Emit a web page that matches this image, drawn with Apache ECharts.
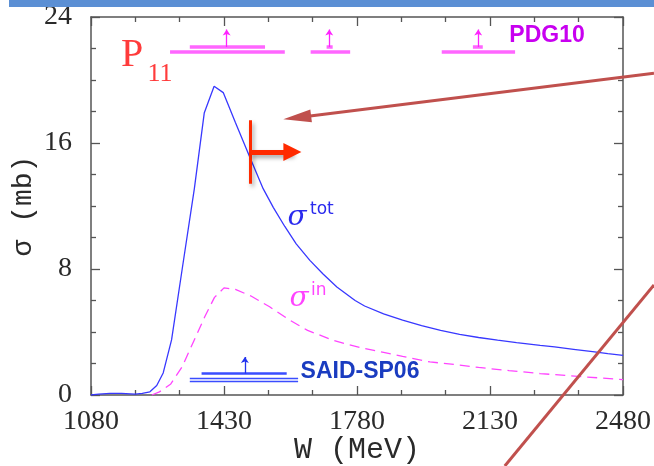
<!DOCTYPE html>
<html>
<head>
<meta charset="utf-8">
<script src="https://cdn.jsdelivr.net/npm/echarts@6/dist/echarts.min.js"></script>
<style>html,body{margin:0;padding:0;background:#fff;}#c{width:654px;height:466px;}</style>
</head>
<body>
<div id="c"></div>
<script>
// ---- data ----
const W_TOT = [1080,1100,1130,1160,1196,1215,1235,1253,1270,1292,1320,1352,1378,1404,1428,1460,1498,1533,1560,1590,1620,1656,1690,1727,1775,1800,1850,1900,1950,2000,2050,2100,2150,2200,2262,2300,2350,2400,2440,2480];
const SIG_TOT = [0,0.05,0.1,0.1,0.05,0.1,0.2,0.6,1.4,3.5,8.0,13.1,17.9,19.6,19.2,17.3,15.1,13.1,11.9,10.7,9.6,8.55,7.7,6.86,6.0,5.65,5.15,4.75,4.4,4.1,3.85,3.65,3.48,3.33,3.15,3.05,2.9,2.75,2.63,2.52];
const W_IN = [1240,1260,1290,1320,1350,1380,1405,1430,1460,1500,1550,1600,1650,1718,1760,1800,1850,1900,1972,2050,2100,2180,2262,2380,2480];
const SIG_IN = [0,0.2,0.7,1.8,3.4,5.0,6.2,6.8,6.7,6.3,5.6,4.8,4.1,3.47,3.18,2.95,2.7,2.45,2.1,1.9,1.75,1.55,1.36,1.15,0.98];
// PDG10 resonances (mass, outer range, inner range)
const PDG_MASS = [1437,1707,2099];
const PDG_LOW = [1288,1658,2003];
const PDG_HIGH = [1590,1762,2196];
const PDG_IN_LOW = [1340,1700,2085];
const PDG_IN_HIGH = [1538,1716,2111];
// SAID-SP06 resonance
const SAID_MASS = [1485];
const SAID_LOW = [1340];
const SAID_HIGH = [1625];
const SAID_IN_LOW = [1371];
const SAID_IN_HIGH = [1595];
// marker (W value)
const MARK_W = [1500];
const MARK_END = [1610];
// axis ticks
const X_MAJOR = [1080,1430,1780,2130,2480];
const X_MINOR = [1196.67,1313.33,1546.67,1663.33,1896.67,2013.33,2246.67,2363.33];
const Y_MIN = 0, Y_MAX = 24, Y_STEP = 8;

// ---- build ----
const tot = W_TOT.map((w,i)=>[w,SIG_TOT[i]]);
const inel = W_IN.map((w,i)=>[w,SIG_IN[i]]);

const PDG_Y = 21.78, PDG_Y2 = 22.1, PDG_TIP = 23.2;
const pdgBars = [];
PDG_MASS.forEach((m,i)=>{
  pdgBars.push({coords:[[PDG_LOW[i],PDG_Y],[PDG_HIGH[i],PDG_Y]]});
  pdgBars.push({coords:[[PDG_IN_LOW[i],PDG_Y2],[PDG_IN_HIGH[i],PDG_Y2]]});
});
const pdgArrows = PDG_MASS.map(m=>({coords:[[m,PDG_Y2],[m,PDG_TIP]]}));

const saidBars = [];
SAID_MASS.forEach((m,i)=>{
  saidBars.push({coords:[[SAID_LOW[i],1.04],[SAID_HIGH[i],1.04]]});
  saidBars.push({coords:[[SAID_LOW[i],0.87],[SAID_HIGH[i],0.87]]});
});
const saidInner = SAID_MASS.map((m,i)=>({coords:[[SAID_IN_LOW[i],1.36],[SAID_IN_HIGH[i],1.36]]}));
const saidArrows = SAID_MASS.map(m=>({coords:[[m,1.36],[m,2.41]]}));

const axisColor = '#555';
const labelFont = {fontFamily:'Liberation Serif', fontSize:28, color:'#2a2a2a'};
function xAx(pos, ticks, len, withLine, extra){
  return Object.assign({
    type:'value', min:1080, max:2480, position:pos,
    axisLine:{show:withLine, onZero:false, lineStyle:{color:axisColor, width:1.5}},
    axisTick:{show:true, inside:true, length:len, customValues:ticks, lineStyle:{color:axisColor, width:1.3}},
    axisLabel:{show:false},
    splitLine:{show:false}
  }, extra||{});
}
function yAx(pos, withLabel, extra){
  return Object.assign({
    type:'value', min:Y_MIN, max:Y_MAX, interval:Y_STEP, position:pos,
    axisLine:{show:true, onZero:false, lineStyle:{color:axisColor, width:1.5}},
    axisTick:{show:true, inside:true, length:9, lineStyle:{color:axisColor, width:1.3}},
    minorTick:{show:true, splitNumber:4, length:5, lineStyle:{color:axisColor, width:1.3}},
    axisLabel:withLabel ? Object.assign({show:true, margin:19}, labelFont) : {show:false},
    splitLine:{show:false}
  }, extra||{});
}

const chart = echarts.init(document.getElementById('c'), null, {renderer:'canvas'});
const option = {
  animation:false,
  backgroundColor:'#fff',
  grid:{left:91, right:31, top:17, bottom:71, containLabel:false, outerBoundsMode:'none'},
  xAxis:[
    xAx('bottom', X_MAJOR, 9, true, {
      axisLabel:Object.assign({show:true, margin:13, customValues:X_MAJOR, formatter:v=>String(Math.round(v))}, labelFont),
      name:'W (MeV)', nameLocation:'middle', nameGap:40, nameMoveOverlap:false,
      nameTextStyle:{fontFamily:'Liberation Mono', fontSize:30, color:'#2a2a2a'}
    }),
    xAx('bottom', X_MINOR, 5, false),
    xAx('top', X_MAJOR, 9, true),
    xAx('top', X_MINOR, 5, false)
  ],
  yAxis:[
    yAx('left', true, {name:'σ (mb)', nameLocation:'middle', nameGap:53, nameMoveOverlap:false,
      nameTextStyle:{fontFamily:'Liberation Mono', fontSize:28, color:'#2a2a2a'}}),
    yAx('right', false)
  ],
  series:[
    {type:'line', data:tot, symbol:'none', lineStyle:{color:'#3838ff', width:1.3}, z:5},
    {type:'line', data:inel, symbol:'none', lineStyle:{color:'#ff44ff', width:1.3, type:[10,6]}, z:5},
    {type:'lines', coordinateSystem:'cartesian2d', data:pdgBars, symbol:'none',
      lineStyle:{color:'#ff66ff', width:3.5, opacity:1}, z:6},
    {type:'lines', coordinateSystem:'cartesian2d', data:pdgArrows, symbol:['none','arrow'], symbolSize:6,
      lineStyle:{color:'#ff22ff', width:1.3, opacity:1}, z:6},
    {type:'lines', coordinateSystem:'cartesian2d', data:saidBars, symbol:'none',
      lineStyle:{color:'#3a4dff', width:1.3, opacity:1}, z:6},
    {type:'lines', coordinateSystem:'cartesian2d', data:saidInner, symbol:'none',
      lineStyle:{color:'#3a4dff', width:2.5, opacity:1}, z:6},
    {type:'lines', coordinateSystem:'cartesian2d', data:saidArrows, symbol:['none','arrow'], symbolSize:6,
      lineStyle:{color:'#2233ee', width:1.3, opacity:1}, z:6},
    {type:'lines', coordinateSystem:'cartesian2d', data:MARK_W.map(w=>({coords:[[w,13.42],[w,17.44]]})), symbol:'none',
      lineStyle:{color:'#ff2a00', width:3, opacity:1, shadowColor:'rgba(0,0,0,0.35)', shadowBlur:4, shadowOffsetX:2, shadowOffsetY:3}, z:8},
    {type:'lines', coordinateSystem:'cartesian2d', data:MARK_W.map((w,i)=>({coords:[[w,15.43],[MARK_END[i],15.43]]})),
      symbol:['none','triangle'], symbolSize:[17,18],
      lineStyle:{color:'#ff2a00', width:5, opacity:1, shadowColor:'rgba(0,0,0,0.35)', shadowBlur:4, shadowOffsetX:2, shadowOffsetY:3}, z:8}
  ],
  graphic:[
    {type:'rect', shape:{x:9, y:0, width:645, height:7}, style:{fill:'#5b8fd4'}, z:100},
    {type:'text', style:{text:'P', x:132, y:55, align:'center', verticalAlign:'middle', font:'40px "Liberation Serif"', fill:'#ff3b3b'}, z:50},
    {type:'text', style:{text:'11', x:160, y:74, align:'center', verticalAlign:'middle', font:'26px "Liberation Serif"', fill:'#ff3b3b'}, z:50},
    {type:'text', style:{text:'PDG10', x:547, y:36, align:'center', verticalAlign:'middle', font:'bold 23px "Liberation Sans"', fill:'#c800f0',
      shadowColor:'rgba(0,0,0,0.35)', shadowBlur:3, shadowOffsetX:1, shadowOffsetY:2}, z:50},
    {type:'text', style:{text:'SAID-SP06', x:360, y:372, align:'center', verticalAlign:'middle', font:'bold 23px "Liberation Sans"', fill:'#1a3cc0',
      shadowColor:'rgba(0,0,0,0.35)', shadowBlur:3, shadowOffsetX:1, shadowOffsetY:2}, z:50},
    {type:'text', style:{text:'σ', x:297, y:218, align:'center', verticalAlign:'middle', font:'italic 28px "DejaVu Serif"', fill:'#2a2aee'}, z:50},
    {type:'text', style:{text:'tot', x:310, y:210, align:'left', verticalAlign:'middle', font:'17px "DejaVu Sans"', fill:'#2a2aee'}, z:50},
    {type:'text', style:{text:'σ', x:299, y:299, align:'center', verticalAlign:'middle', font:'italic 28px "DejaVu Serif"', fill:'#ff44ff'}, z:50},
    {type:'text', style:{text:'in', x:311, y:291, align:'left', verticalAlign:'middle', font:'17px "DejaVu Sans"', fill:'#ff44ff'}, z:50},
    {type:'line', shape:{x1:654, y1:73.3, x2:300, y2:117.2}, style:{stroke:'#c0504d', lineWidth:3}, z:60},
    {type:'polygon', shape:{points:[[283.3,119.3],[311.9,122.3],[310.3,109.4]]}, style:{fill:'#c0504d'}, z:60},
    {type:'line', shape:{x1:504.8, y1:466, x2:654, y2:285}, style:{stroke:'#c0504d', lineWidth:3}, z:60}
  ]
};
chart.setOption(option);
</script>
</body>
</html>
